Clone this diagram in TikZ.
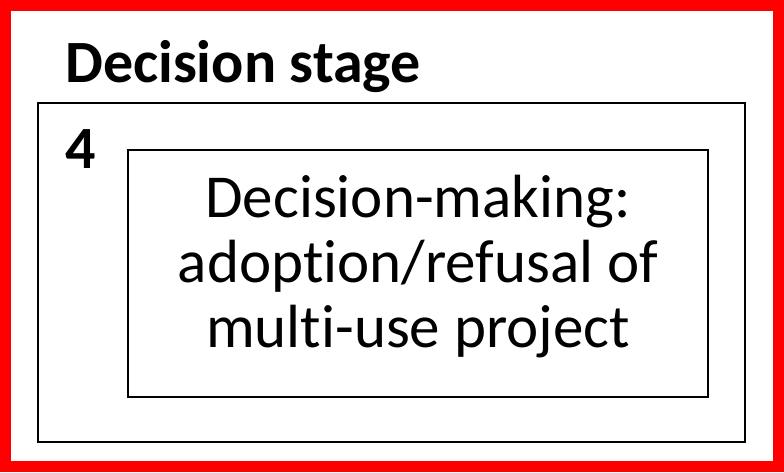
\documentclass[tikz,border=0pt]{standalone}
\usepackage{fontspec}
\setmainfont{Carlito}[Ligatures=NoCommon]
\begin{document}
\begin{tikzpicture}[x=1pt,y=-1pt]
\useasboundingbox (0,0) rectangle (784,472);
\draw[red,line width=11pt] (5.5,5.5) rectangle (778.5,466.5);
\node(title) at (65,82) [anchor=base west,inner sep=0pt,font=\fontsize{60}{72}\selectfont\bfseries]{Decision stage};
\node(stage) at (391.5,272.5) [draw,line width=2pt,minimum width=707pt,minimum height=339pt]{};
\node(num) at (65,168) [anchor=base west,inner sep=0pt,font=\fontsize{60}{72}\selectfont\bfseries]{4};
\node(decision) at (418,273.5) [draw,line width=1.5pt,minimum width=580pt,minimum height=247pt,align=center,text depth=25pt,font=\fontsize{61}{65}\selectfont]{Decision-making:\\adoption/refusal of\\multi-use project};
\end{tikzpicture}
\end{document}
